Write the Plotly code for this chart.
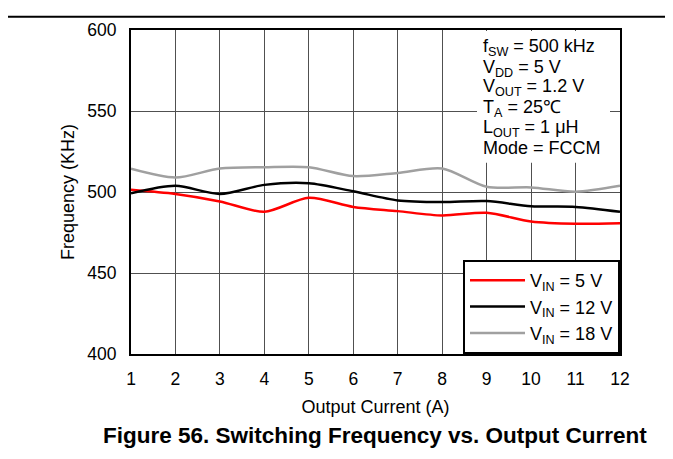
import plotly.graph_objects as go

current = [1, 2, 3, 4, 5, 6, 7, 8, 9, 10, 11, 12]
freq_vin5 = [501.4, 498.8, 494.2, 487.8, 496.4, 490.8, 488.2, 485.5, 487.2, 481.8, 480.4, 480.7]
freq_vin12 = [499.2, 503.8, 498.8, 504.4, 505.4, 500.4, 494.8, 493.8, 494.4, 491.2, 490.8, 487.8]
freq_vin18 = [514.3, 508.9, 514.5, 515.3, 515.3, 509.8, 511.8, 514.5, 503.2, 502.8, 500.2, 503.8]

series_names = ["V<sub>IN</sub> = 5 V", "V<sub>IN</sub> = 12 V", "V<sub>IN</sub> = 18 V"]
series_colors = ["#FF0000", "#000000", "#A0A0A0"]
x_ticks = list(range(1, 13))
y_ticks = [400, 450, 500, 550, 600]
condition_lines = ["f<sub>SW</sub> = 500 kHz", "V<sub>DD</sub> = 5 V", "V<sub>OUT</sub> = 1.2 V",
                   "T<sub>A</sub> = 25℃", "L<sub>OUT</sub> = 1 μH", "Mode = FCCM"]

FONT = "Liberation Sans, Arial, sans-serif"

# page-pixel helpers (page has an 8px body margin; plot area spans x 131..620, y 22..354)
def px(xp):
    return (xp - 131) / 489

def py(yp):
    return (354 - yp) / 332

fig = go.Figure()
for vals, name, col in zip([freq_vin5, freq_vin12, freq_vin18], series_names, series_colors):
    fig.add_trace(go.Scatter(x=current, y=vals, mode="lines", name=name,
                             line=dict(color=col, width=2.5, shape="spline", smoothing=0.8)))

fig.update_layout(
    width=665, height=451,
    margin=dict(l=123, r=53, t=14, b=105),
    paper_bgcolor="white", plot_bgcolor="white",
    font=dict(family=FONT, size=18, color="black"),
    showlegend=True,
    legend=dict(x=1, xanchor="right", y=0, yanchor="bottom",
                bgcolor="white", bordercolor="black", borderwidth=2,
                font=dict(size=18), itemwidth=55),
    xaxis=dict(range=[1, 12], tickvals=x_ticks, showgrid=True, gridcolor="#505050", gridwidth=1,
               zeroline=False, showline=True, linecolor="black", linewidth=2, mirror=True,
               ticks="", ticklabelstandoff=8, tickfont=dict(size=17.5),
               title=dict(text="Output Current (A)", font=dict(size=18), standoff=12)),
    yaxis=dict(range=[400, 600], tickvals=y_ticks, showgrid=True, gridcolor="#505050", gridwidth=1,
               zeroline=False, showline=True, linecolor="black", linewidth=2, mirror=True,
               ticks="", ticklabelstandoff=9, tickfont=dict(size=17.5),
               title=dict(text="Frequency (KHz)", font=dict(size=18), standoff=8)),
)

# white box behind the test conditions (covers gridlines)
fig.add_shape(type="rect", xref="paper", yref="paper", layer="above",
              x0=px(477), x1=px(610), y0=py(158), y1=py(23),
              fillcolor="white", line=dict(width=0))

cond_y = [40, 61, 81, 102, 123, 143]
for txt, yy in zip(condition_lines, cond_y):
    fig.add_annotation(xref="paper", yref="paper", x=px(481), y=py(yy),
                       xanchor="left", yanchor="middle", showarrow=False,
                       text=txt, font=dict(size=18, family=FONT))

fig.add_annotation(
    xref="paper", yref="paper", x=px(375), y=py(438),
    xanchor="center", yanchor="middle", showarrow=False,
    text="<b>Figure 56. Switching Frequency vs. Output Current</b>",
    font=dict(size=22.5, family=FONT),
)

# page frame lines (top and right)
fig.add_shape(type="line", xref="paper", yref="paper",
              x0=px(8), x1=px(673), y0=py(8.5), y1=py(8.5),
              line=dict(color="black", width=2))
fig.add_shape(type="line", xref="paper", yref="paper",
              x0=px(671), x1=px(671), y0=py(8), y1=py(459),
              line=dict(color="black", width=2))

fig.write_html("out.html")
